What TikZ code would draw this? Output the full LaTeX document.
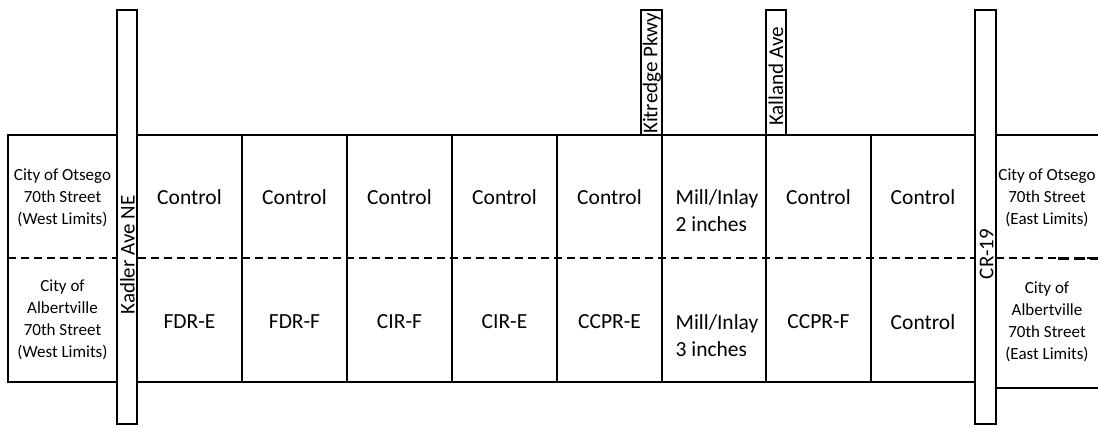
\documentclass[tikz,border=0pt]{standalone}
\usepackage{fontspec}
\setmainfont{Carlito}
\begin{document}
\begin{tikzpicture}[x=1pt,y=-1pt,
  frame/.style={draw, line width=1.3pt},
  road/.style={draw, fill=white, line width=1.3pt},
  lbl/.style={font=\fontsize{21.5}{27}\selectfont, inner sep=0pt},
  side/.style={font=\fontsize{17}{22}\selectfont, align=center, inner sep=0pt},
  roadlbl/.style={font=\fontsize{21}{25}\selectfont, rotate=90, inner sep=0pt},
  divider/.style={dash pattern=on 8pt off 5pt, line width=1.8pt}]
\useasboundingbox (0,0) rectangle (1098,428);
% frames
\draw[frame] (8,135) rectangle (117,382);
\draw[frame] (137,135) rectangle (975,382);
\foreach \x in {242,347,452,557,766,871} \draw[frame] (\x,135) -- (\x,382);
\draw[line width=2.4pt] (662,135) -- (662,382);
\draw[frame] (1098,135) -- (996,135);
\draw[frame] (996,388) -- (1098,388);
% dashed divider
\draw[divider] (8,258) -- (1098,258);
\draw[divider, line width=3pt, dash pattern=on 11pt off 5pt] (1058,258) -- (1098,258);
% roads
\draw[road] (117,10) rectangle (137,424);
\draw[road] (975,10) rectangle (996,424);
\draw[road] (641,10) rectangle (662,135);
\draw[road] (766,10) rectangle (786,135);
\draw[line width=2.4pt] (662,10) -- (662,135);
\node[roadlbl] (kadler) at (127.5,255) {Kadler Ave NE};
\node[roadlbl] (cr19) at (986.5,254) {CR-19};
\node[roadlbl, anchor=west] (kitredge) at (652,134) {Kitredge Pkwy};
\node[roadlbl, anchor=west] (kalland) at (776,126) {Kalland Ave};
% side boxes
\node[side] (wtop) at (62.5,198) {City of Otsego\\70th Street\\(West Limits)};
\node[side] (wbot) at (62.5,320) {City of\\Albertville\\70th Street\\(West Limits)};
\node[side] (etop) at (1047,198) {City of Otsego\\70th Street\\(East Limits)};
\node[side] (ebot) at (1047,322) {City of\\Albertville\\70th Street\\(East Limits)};
% top row
\node[lbl] (t1) at (189.5,197) {Control};
\node[lbl] (t2) at (294.5,197) {Control};
\node[lbl] (t3) at (399.5,197) {Control};
\node[lbl] (t4) at (504.5,197) {Control};
\node[lbl] (t5) at (609.5,197) {Control};
\node[lbl, align=left] (t6) at (717,210.5) {Mill/Inlay\\2 inches};
\node[lbl] (t7) at (818.5,197) {Control};
\node[lbl] (t8) at (923,197) {Control};
% bottom row
\node[lbl] (b1) at (189.5,322) {FDR-E};
\node[lbl] (b2) at (294.5,322) {FDR-F};
\node[lbl] (b3) at (399.5,322) {CIR-F};
\node[lbl] (b4) at (504.5,322) {CIR-E};
\node[lbl] (b5) at (609.5,322) {CCPR-E};
\node[lbl, align=left] (b6) at (717,336) {Mill/Inlay\\3 inches};
\node[lbl] (b7) at (818.5,322) {CCPR-F};
\node[lbl] (b8) at (923,322) {Control};
\end{tikzpicture}
\end{document}
